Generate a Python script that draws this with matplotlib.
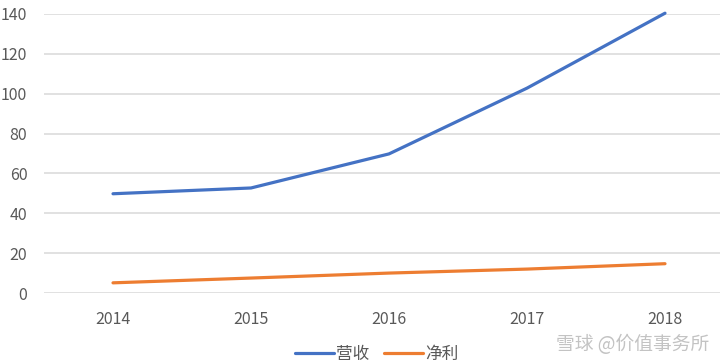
import matplotlib.pyplot as plt

plt.rcParams['font.family'] = ['Noto Sans CJK SC', 'DejaVu Sans']

years = ['2014', '2015', '2016', '2017', '2018']
revenue = [49.8, 52.7, 69.8, 102.8, 140.4]
net_profit = [5.1, 7.5, 10.0, 12.0, 14.7]
y_ticks = [0, 20, 40, 60, 80, 100, 120, 140]

text_colour = '#595959'

fig = plt.figure(figsize=(7.2, 3.64), dpi=100)
# plot area runs past the right edge, as in the cropped reference
ax = fig.add_axes([44 / 720, 1 - 293 / 364, 690 / 720, 279 / 364])

x = list(range(len(years)))
ax.plot(x, revenue, color='#4472C4', linewidth=2.3, solid_capstyle='round', label='营收', clip_on=False)
ax.plot(x, net_profit, color='#ED7D31', linewidth=2.3, solid_capstyle='round', label='净利', clip_on=False)

ax.set_xlim(-0.5, len(years) - 0.5)
ax.set_ylim(0, 140)
ax.set_xticks(x)
ax.set_xticklabels(years)
ax.set_yticks(y_ticks)
ax.grid(axis='y', color='#D9D9D9', linewidth=1.1)
ax.set_axisbelow(True)
for s in ax.spines.values():
    s.set_visible(False)
ax.tick_params(axis='both', length=0, labelsize=11.5, labelcolor=text_colour)
ax.tick_params(axis='x', pad=13)
ax.tick_params(axis='y', pad=12)

fig.legend(loc='center', bbox_to_anchor=(377 / 720, 1 - 354 / 364), ncol=2, frameon=False,
           fontsize=12, labelcolor=text_colour, handlelength=2.3, columnspacing=0.9,
           handletextpad=0.15, borderpad=0.2)

# watermark
fig.text(556 / 720, 1 - 345 / 364, '雪球 @价值事务所', fontsize=13.5, color='#888888', alpha=0.5,
         ha='left', va='center')

fig.savefig('out.png', dpi=100)
